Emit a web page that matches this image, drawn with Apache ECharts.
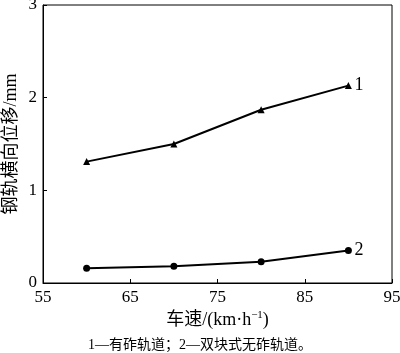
<!DOCTYPE html>
<html>
<head>
<meta charset="utf-8">
<script src="https://cdn.jsdelivr.net/npm/echarts@6/dist/echarts.min.js"></script>
<style>
  html, body { margin: 0; padding: 0; background: #fff; }
  #chart { width: 400px; height: 353px; }
</style>
</head>
<body>
<div id="chart"></div>
<script>
// speed (km/h) and lateral rail displacement (mm)
const speeds = [60, 70, 80, 90];
const ballasted = [1.31, 1.50, 1.87, 2.13];     // 1 — 有砟轨道
const slabTrack = [0.16, 0.18, 0.23, 0.35];     // 2 — 双块式无砟轨道
const seriesTags = ['1', '2'];
const caption = '1—有砟轨道；2—双块式无砟轨道。';

const serif = '"Liberation Serif", "Noto Sans CJK SC", serif';

const chart = echarts.init(document.getElementById('chart'));

function pairs(vals) {
  return speeds.map((s, i) => [s, vals[i]]);
}

chart.setOption({
  animation: false,
  title: {
    text: caption,
    left: 'center',
    top: 333,
    textStyle: { fontFamily: serif, fontSize: 14, fontWeight: 'normal', color: '#000' }
  },
  grid: {
    left: 43, right: 8, top: 5, bottom: 70,
    outerBoundsMode: 'none',
    containLabel: false,
    show: true, borderColor: '#000', borderWidth: 1
  },
  xAxis: {
    type: 'value',
    min: 55, max: 95, interval: 10,
    name: '车速/(km·h{sup|−1})',
    nameLocation: 'middle',
    nameMoveOverlap: false,
    nameGap: 27,
    nameTextStyle: {
      fontFamily: serif, fontSize: 18, color: '#000',
      rich: { sup: { fontFamily: serif, fontSize: 11, color: '#000', verticalAlign: 'top', padding: [0, 0, 9, 0] } }
    },
    axisLine: { lineStyle: { color: '#000', width: 1 } },
    axisTick: { inside: true, length: 4, lineStyle: { color: '#000' } },
    axisLabel: { fontFamily: serif, fontSize: 17, color: '#000', margin: 6 },
    splitLine: { show: false }
  },
  yAxis: {
    type: 'value',
    min: 0, max: 3, interval: 1,
    name: '钢轨横向位移/mm',
    nameLocation: 'middle',
    nameMoveOverlap: false,
    nameGap: 23,
    nameTextStyle: { fontFamily: serif, fontSize: 18, color: '#000' },
    axisLine: { lineStyle: { color: '#000', width: 1 } },
    axisTick: { inside: true, length: 4, lineStyle: { color: '#000' } },
    axisLabel: { fontFamily: serif, fontSize: 17, color: '#000', margin: 6 },
    splitLine: { show: false }
  },
  series: [
    {
      type: 'line',
      data: pairs(ballasted),
      symbol: 'triangle',
      symbolSize: 7,
      itemStyle: { color: '#000' },
      lineStyle: { color: '#000', width: 2 },
      endLabel: { show: true, formatter: seriesTags[0], fontFamily: serif, fontSize: 18, color: '#000', distance: 6 }
    },
    {
      type: 'line',
      data: pairs(slabTrack),
      symbol: 'circle',
      symbolSize: 7,
      itemStyle: { color: '#000' },
      lineStyle: { color: '#000', width: 2 },
      endLabel: { show: true, formatter: seriesTags[1], fontFamily: serif, fontSize: 18, color: '#000', distance: 6 }
    }
  ]
});
</script>
</body>
</html>
